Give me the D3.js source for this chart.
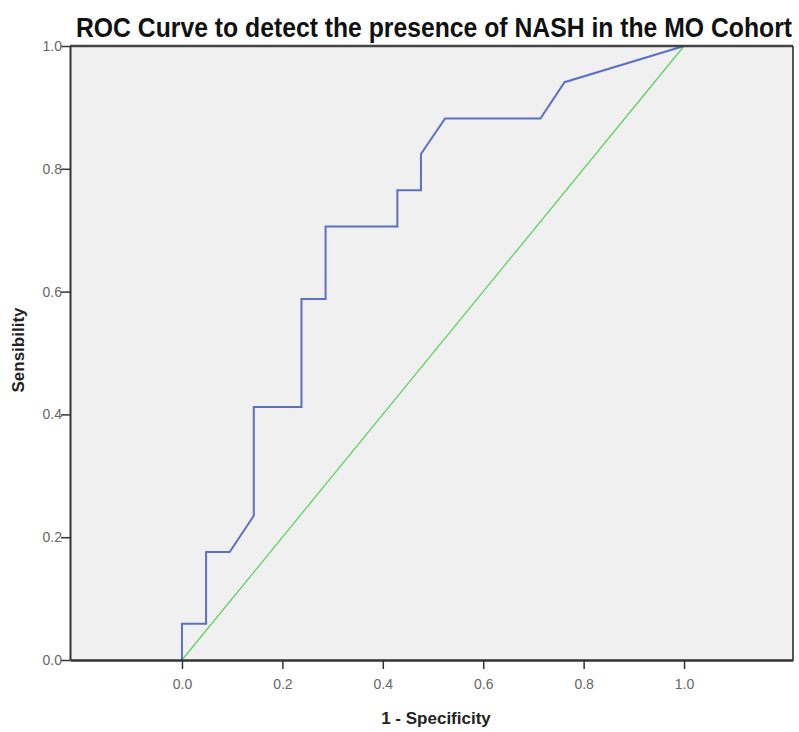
<!DOCTYPE html>
<html>
<head>
<meta charset="utf-8">
<script src="https://cdn.jsdelivr.net/npm/d3@7"></script>
<style>
  body { margin: 0; background: #fff; }
  text { font-family: "Liberation Sans Narrow", "Liberation Sans", Arial, sans-serif; }
</style>
</head>
<body>
<div id="chart"></div>
<script>
// ROC curve values
var fpr  = [0, 0, 0.048, 0.048, 0.095, 0.143, 0.143, 0.238, 0.238, 0.286, 0.286, 0.429, 0.429, 0.476, 0.476, 0.524, 0.714, 0.762, 1]
var sens = [0, 0.059, 0.059, 0.176, 0.176, 0.235, 0.412, 0.412, 0.588, 0.588, 0.706, 0.706, 0.765, 0.765, 0.824, 0.882, 0.882, 0.941, 1]
var refLine = [[0, 0], [1, 1]]
var xTicks = [0, 0.2, 0.4, 0.6, 0.8, 1.0]
var yTicks = [0, 0.2, 0.4, 0.6, 0.8, 1.0]

var width = 799
var height = 732
var plotLeft = 70, plotRight = 793, plotTop = 46, plotBottom = 660

var x = d3.scaleLinear().domain([-0.223, 1.217]).range([plotLeft, plotRight])
var y = d3.scaleLinear().domain([0, 1]).range([plotBottom, plotTop])

var svg = d3.select('#chart').append('svg')
  .attr('width', width)
  .attr('height', height)

// plot background
svg.append('rect')
  .attr('x', plotLeft).attr('y', plotTop)
  .attr('width', plotRight - plotLeft).attr('height', plotBottom - plotTop)
  .attr('fill', '#f0f0f0')

// reference diagonal
svg.append('path')
  .datum(refLine)
  .attr('fill', 'none')
  .attr('stroke', '#5fd35f')
  .attr('stroke-width', 1.3)
  .attr('d', d3.line().x(function(d){ return x(d[0]) }).y(function(d){ return y(d[1]) }))

// ROC curve
var pts = fpr.map(function(v, i){ return [v, sens[i]] })
svg.append('path')
  .datum(pts)
  .attr('fill', 'none')
  .attr('stroke', '#5b70c4')
  .attr('stroke-width', 2)
  .attr('stroke-linejoin', 'miter')
  .attr('d', d3.line().x(function(d){ return x(d[0]) }).y(function(d){ return y(d[1]) }))

// frame
svg.append('line').attr('x1', plotLeft).attr('x2', plotRight).attr('y1', plotTop).attr('y2', plotTop)
  .attr('stroke', '#444').attr('stroke-width', 2.5)
svg.append('line').attr('x1', plotRight).attr('x2', plotRight).attr('y1', plotTop).attr('y2', plotBottom)
  .attr('stroke', '#222').attr('stroke-width', 1.5)

// axes
var xAxis = svg.append('g')
  .attr('transform', 'translate(0,' + plotBottom + ')')
  .call(d3.axisBottom(x).tickValues(xTicks).tickFormat(d3.format('.1f')).tickSize(9).tickSizeOuter(0))
var yAxis = svg.append('g')
  .attr('transform', 'translate(' + plotLeft + ',0)')
  .call(d3.axisLeft(y).tickValues(yTicks).tickFormat(d3.format('.1f')).tickSize(9).tickSizeOuter(0))

xAxis.select('.domain').attr('stroke', '#333').attr('stroke-width', 2.5)
yAxis.select('.domain').attr('stroke', '#333').attr('stroke-width', 2)
svg.selectAll('.tick line').attr('stroke', '#333').attr('stroke-width', 1.5)
svg.selectAll('.tick text')
  .attr('fill', '#666')
  .style('font-size', '14px')
  .style('font-family', '"Liberation Sans Narrow", "Liberation Sans", Arial, sans-serif')
xAxis.selectAll('.tick text').attr('dy', '1.2em')
yAxis.selectAll('.tick text').attr('x', -8)

// labels
svg.append('text')
  .attr('x', 434).attr('y', 37)
  .attr('text-anchor', 'middle')
  .attr('font-weight', 'bold')
  .attr('font-size', 27)
  .attr('fill', '#111')
  .attr('textLength', 716)
  .attr('lengthAdjust', 'spacingAndGlyphs')
  .text('ROC Curve to detect the presence of NASH in the MO Cohort')

svg.append('text')
  .attr('x', 436).attr('y', 724)
  .attr('text-anchor', 'middle')
  .attr('font-weight', 'bold')
  .attr('font-size', 17)
  .attr('fill', '#222')
  .style('font-family', '"Liberation Sans", Arial, sans-serif')
  .text('1 - Specificity')

svg.append('text')
  .attr('transform', 'translate(24,' + 350 + ') rotate(-90)')
  .attr('text-anchor', 'middle')
  .attr('font-weight', 'bold')
  .attr('font-size', 17)
  .attr('fill', '#222')
  .style('font-family', '"Liberation Sans", Arial, sans-serif')
  .text('Sensibility')
</script>
</body>
</html>
